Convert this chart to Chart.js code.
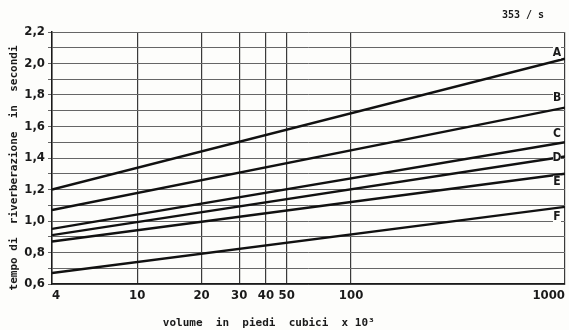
<!DOCTYPE html>
<html>
<head>
<meta charset="utf-8">
<script src="https://cdn.jsdelivr.net/npm/chart.js@4/dist/chart.umd.min.js"></script>
<style>
  html, body { margin: 0; padding: 0; background: #fdfdfb; }
  #wrap { width: 569px; height: 330px; position: relative; }
</style>
</head>
<body>
<div id="wrap"><canvas id="reverbChart"></canvas></div>
<script>
// volumes (x 10^3 cubic feet), straight lines on the log axis
const volumes = [4, 1000];
const seriesNames = ["A", "B", "C", "D", "E", "F"];
const lineA = [1.20, 2.03];
const lineB = [1.07, 1.72];
const lineC = [0.95, 1.50];
const lineD = [0.91, 1.41];
const lineE = [0.87, 1.30];
const lineF = [0.67, 1.09];

const xTicks = [4, 10, 20, 30, 40, 50, 100, 1000];
const yTickLabels = ["0,6", "0,8", "1,0", "1,2", "1,4", "1,6", "1,8", "2,0", "2,2"];

const allLines = [lineA, lineB, lineC, lineD, lineE, lineF];

const tickFont = { family: "'DejaVu Sans Condensed', 'Liberation Sans Narrow', sans-serif", size: 13, weight: "bold" };
const titleFont = { family: "'DejaVu Sans Mono', monospace", size: 11, weight: "bold" };

// letters at the right end of each line
const letterOffsets = [-6, -10, -8, 1, 8, 10];

const letterPlugin = {
    id: "letters",
    afterDatasetsDraw(chart) {
        const ctx = chart.ctx;
        const xs = chart.scales.x;
        const ys = chart.scales.y;
        ctx.save();
        ctx.font = "bold 12px 'DejaVu Sans Condensed', sans-serif";
        ctx.textAlign = "center";
        ctx.textBaseline = "middle";
        seriesNames.forEach(function (name, i) {
            const px = xs.getPixelForValue(volumes[1]) - 8;
            const py = ys.getPixelForValue(allLines[i][1]) + letterOffsets[i];
            ctx.fillStyle = "#fdfdfb";
            ctx.fillRect(px - 4, py - 6, 8, 12);
            ctx.fillStyle = "#1a1a1a";
            ctx.fillText(name, px, py);
        });
        // reference mark top right
        ctx.font = "bold 10px 'DejaVu Sans Mono', monospace";
        ctx.textAlign = "left";
        ctx.fillText("353 / s", 502, 15);
        ctx.restore();
    }
};

const ctx = document.getElementById("reverbChart");

new Chart(ctx, {
    type: "line",
    data: {
        datasets: allLines.map(function (vals, i) {
            return {
                label: seriesNames[i],
                data: volumes.map(function (v, j) { return { x: v, y: vals[j] }; }),
                borderColor: "#111111",
                borderWidth: 2.4,
                pointRadius: 0,
                fill: false,
                tension: 0
            };
        })
    },
    options: {
        responsive: true,
        maintainAspectRatio: false,
        animation: false,
        layout: { padding: { top: 32, right: 4, left: 0, bottom: 0 } },
        plugins: {
            legend: { display: false },
            tooltip: { enabled: false }
        },
        scales: {
            x: {
                type: "logarithmic",
                min: 4,
                max: 1000,
                afterBuildTicks: function (scale) {
                    scale.ticks = xTicks.map(function (v) { return { value: v }; });
                },
                afterFit: function (scale) {
                    scale.height = 46;
                    scale.paddingLeft = 0;
                    scale.paddingRight = 0;
                },
                ticks: {
                    autoSkip: false,
                    maxRotation: 0,
                    align: "inner",
                    color: "#1a1a1a",
                    font: tickFont,
                    padding: 4,
                    callback: function (value) { return String(value); }
                },
                grid: { color: "#3a3a3a", lineWidth: 1.2, tickLength: 0 },
                border: { color: "#1a1a1a", width: 1.5 },
                title: {
                    display: true,
                    // trailing blanks push the centred title to the left, as in the original
                    text: "volume  in  piedi  cubici  x 10\u00b3            ",
                    color: "#1a1a1a",
                    font: titleFont,
                    padding: { top: 2, bottom: 0 }
                }
            },
            y: {
                min: 0.6,
                max: 2.2,
                ticks: {
                    stepSize: 0.1,
                    autoSkip: false,
                    color: "#1a1a1a",
                    font: tickFont,
                    padding: 3,
                    callback: function (value, index) {
                        return index % 2 === 0 ? yTickLabels[index / 2] : "";
                    }
                },
                afterFit: function (scale) {
                    scale.width = 52;
                    scale.paddingTop = 0;
                    scale.paddingBottom = 0;
                },
                grid: { color: "#666666", lineWidth: 1, tickLength: 4 },
                border: { color: "#1a1a1a", width: 1.5 },
                title: {
                    display: true,
                    text: "tempo di  riverberazione  in  secondi   ",
                    color: "#1a1a1a",
                    font: titleFont,
                    padding: { top: 8, bottom: 0 }
                }
            }
        }
    },
    plugins: [letterPlugin]
});
</script>
</body>
</html>
